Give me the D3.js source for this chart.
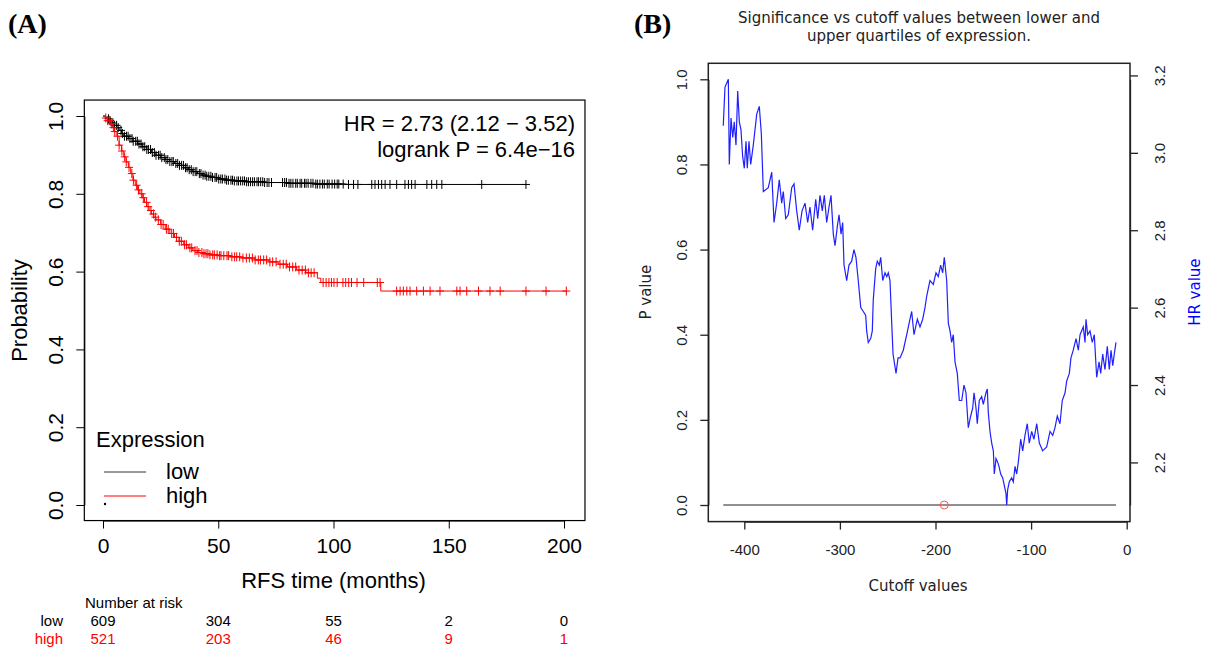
<!DOCTYPE html>
<html>
<head>
<meta charset="utf-8">
<script src="https://cdn.jsdelivr.net/npm/d3@7"></script>
<style>
  body { margin: 0; background: #fff; }
  svg { display: block; }
</style>
</head>
<body>
<svg width="1211" height="652"></svg>
<script>
// ---- panel A: Kaplan-Meier data ----
var lowTimes = [0, 1, 2, 3, 4, 5, 6, 7, 8, 9, 11, 13, 15, 17, 19, 21, 23, 25, 27, 29, 31, 33, 35, 37, 39, 41, 43, 45, 47, 50, 53, 57, 62, 70, 80, 92, 105, 183.5];
var lowSurv = [1.000, 0.997, 0.993, 0.988, 0.982, 0.976, 0.970, 0.963, 0.955, 0.948, 0.942, 0.935, 0.928, 0.921, 0.914, 0.906, 0.899, 0.893, 0.888, 0.883, 0.878, 0.873, 0.867, 0.862, 0.857, 0.852, 0.848, 0.845, 0.842, 0.838, 0.835, 0.833, 0.831, 0.829, 0.827, 0.825, 0.824, 0.824];
var highTimes = [0, 1, 2, 3, 4, 5, 6, 7, 8, 9, 10, 11, 12, 13, 14, 15, 16, 17, 18, 19, 20, 21, 22, 23, 25, 27, 29, 31, 33, 35, 37, 39, 41, 43, 46, 50, 55, 60, 66, 72, 76, 80, 84, 88, 93, 94.5, 120.5, 201];
var highSurv = [1.000, 0.995, 0.988, 0.980, 0.970, 0.960, 0.948, 0.925, 0.910, 0.895, 0.882, 0.868, 0.852, 0.835, 0.822, 0.810, 0.800, 0.790, 0.778, 0.767, 0.757, 0.748, 0.740, 0.733, 0.721, 0.709, 0.698, 0.688, 0.678, 0.669, 0.661, 0.654, 0.649, 0.646, 0.643, 0.641, 0.638, 0.635, 0.630, 0.625, 0.619, 0.612, 0.604, 0.597, 0.583, 0.572, 0.550, 0.550];

var lowCensor = [2.4, 3.1, 4.3, 5.0, 5.9, 6.6, 7.8, 8.4, 9.3, 10.2, 10.9, 11.7, 12.6, 13.1, 14.2, 14.9, 15.6, 16.5, 17.3, 18.1, 19.0, 19.7, 20.6, 21.4, 22.3, 23.0, 24.1, 24.8, 25.5, 26.6, 27.3, 28.1, 29.0, 29.9, 30.5, 31.6, 32.4, 33.2, 34.1, 34.9, 35.8, 36.5, 37.4, 38.3, 39.1, 40.0, 40.7, 41.8, 42.5, 43.4, 44.3, 45.0, 45.9, 46.8, 47.5, 48.6, 49.3, 50.2, 51.1, 51.8, 52.9, 53.6, 54.4, 55.5, 56.2, 57.0, 58.1, 58.8, 59.7, 60.6, 61.4, 62.3, 63.1, 64.0, 64.9, 65.7, 66.8, 67.5, 68.4, 69.3, 70.1, 71.2, 72.0, 73.1, 77.9, 78.8, 79.6, 80.7, 81.5, 82.4, 83.6, 84.3, 85.5, 86.2, 87.4, 88.1, 89.0, 90.2, 91.1, 92.3, 93.0, 94.1, 95.2, 96.0, 97.3, 98.1, 99.4, 100.5, 101.6, 102.3, 104.2, 106.5, 108.7, 110.6, 116.6, 118.0, 119.5, 120.9, 122.4, 124.5, 127.4, 131.0, 132.5, 133.9, 135.4, 140.5, 142.6, 144.8, 147.0, 164.3, 183.5];
var highCensor = [1.2, 2.0, 2.9, 3.6, 4.5, 5.1, 6.3, 7.0, 8.2, 9.4, 10.1, 11.3, 12.5, 13.2, 14.6, 15.4, 16.8, 17.5, 18.9, 19.6, 20.8, 21.9, 22.7, 24.0, 25.2, 26.1, 27.5, 28.3, 29.8, 30.6, 31.9, 33.1, 34.0, 35.4, 36.2, 37.7, 38.5, 39.9, 40.8, 41.6, 42.9, 43.8, 44.7, 45.5, 46.4, 47.6, 48.3, 49.5, 50.6, 51.2, 52.4, 53.8, 54.5, 55.9, 57.1, 58.0, 59.3, 60.7, 62.2, 63.5, 64.8, 66.0, 67.4, 68.3, 69.7, 71.0, 72.4, 73.6, 75.1, 76.8, 78.2, 79.5, 80.9, 82.3, 83.6, 85.0, 86.4, 87.8, 89.1, 90.3, 91.6, 95.5, 96.8, 98.0, 99.1, 100.2, 101.6, 104.1, 105.3, 106.6, 107.8, 110.2, 113.1, 119.0, 120.2, 127.4, 128.9, 130.3, 131.8, 133.2, 136.1, 139.0, 141.9, 146.2, 153.5, 154.9, 157.8, 162.9, 167.9, 172.3, 183.5, 192.2, 201.0];

var riskTimes = [0, 50, 100, 150, 200];
var riskLow = [609, 304, 55, 2, 0];
var riskHigh = [521, 203, 46, 9, 1];

// ---- panel B: HR vs cutoff ----
var hrCut = [-422.0,-420.2,-416.7,-415.7,-413.9,-412.1,-410.5,-408.7,-406.9,-405.2,
  -403.5,-401.7,-400.0,-398.2,-396.9,-395.1,-393.3,-390.6,-387.0,-384.3,
  -382.2,-380.1,-374.9,-371.3,-368.9,-366.1,-363.4,-360.9,-359.2,-356.7,
  -354.0,-350.4,-348.0,-345.2,-342.5,-339.6,-336.5,-333.7,-331.3,-328.5,
  -325.3,-323.2,-320.8,-318.4,-316.3,-313.8,-311.4,-309.3,-306.9,-305.1,
  -302.7,-300.9,-298.8,-297.1,-295.7,-292.9,-290.5,-287.7,-285.3,-283.2,
  -280.8,-278.2,-275.5,-273.0,-272.0,-270.3,-267.8,-266.1,-265.1,-262.6,
  -260.9,-258.8,-257.3,-255.2,-252.8,-251.0,-249.4,-247.6,-245.8,-244.4,
  -241.3,-239.2,-237.1,-233.7,-230.1,-226.7,-224.9,-222.5,-219.0,-216.2,
  -213.4,-211.0,-209.2,-205.8,-202.3,-199.5,-197.1,-194.6,-192.5,-190.8,
  -188.3,-186.6,-184.8,-183.1,-181.4,-179.6,-177.2,-175.1,-172.6,-170.2,
  -168.1,-165.7,-163.2,-161.1,-159.7,-157.6,-156.3,-154.2,-151.7,-150.0,
  -147.2,-145.8,-144.8,-143.0,-141.2,-139.5,-138.5,-136.7,-134.9,-133.6,
  -131.8,-129.7,-128.0,-126.3,-125.5,-124.5,-122.8,-120.3,-118.6,-116.8,
  -115.1,-113.4,-110.9,-108.8,-106.4,-104.0,-101.9,-99.4,-97.0,-94.1,
  -91.4,-87.9,-83.7,-80.2,-77.4,-75.0,-72.6,-69.8,-67.4,-64.5,
  -62.8,-60.0,-58.3,-55.9,-53.0,-50.6,-48.8,-47.1,-45.4,-43.6,
  -42.6,-40.8,-38.4,-36.0,-33.9,-31.4,-28.9,-27.2,-25.1,-22.7,
  -20.3,-18.2,-16.4,-14.6,-13.0,-11.2];
var hrVal = [3.07,3.17,3.19,2.97,3.09,3.04,3.08,3.02,3.16,3.08,
  3.06,2.99,2.96,3.03,2.96,3.03,2.97,3.02,3.10,3.12,
  3.05,2.90,2.91,2.95,2.82,2.87,2.93,2.87,2.90,2.83,
  2.84,2.91,2.92,2.85,2.80,2.85,2.87,2.82,2.86,2.80,
  2.88,2.83,2.89,2.85,2.89,2.82,2.86,2.89,2.79,2.76,
  2.81,2.84,2.79,2.82,2.71,2.67,2.71,2.72,2.75,2.73,
  2.67,2.60,2.59,2.58,2.54,2.51,2.52,2.54,2.62,2.70,
  2.72,2.71,2.73,2.67,2.69,2.68,2.69,2.67,2.56,2.48,
  2.43,2.47,2.47,2.49,2.53,2.57,2.59,2.53,2.57,2.55,
  2.57,2.60,2.63,2.67,2.66,2.69,2.68,2.71,2.69,2.73,
  2.67,2.56,2.54,2.51,2.53,2.46,2.43,2.36,2.36,2.40,
  2.38,2.29,2.32,2.34,2.38,2.34,2.30,2.36,2.37,2.35,
  2.38,2.39,2.33,2.28,2.25,2.23,2.17,2.21,2.20,2.19,
  2.17,2.16,2.14,2.12,2.09,2.13,2.15,2.16,2.15,2.19,
  2.17,2.20,2.26,2.23,2.27,2.30,2.25,2.28,2.26,2.30,
  2.25,2.23,2.24,2.28,2.27,2.29,2.32,2.30,2.36,2.38,
  2.41,2.43,2.47,2.49,2.52,2.49,2.53,2.54,2.55,2.51,
  2.57,2.53,2.54,2.51,2.53,2.42,2.46,2.43,2.48,2.44,
  2.50,2.44,2.49,2.45,2.48,2.51];
var pCut = [-422.0, -11.2];
var pVal = [0, 0];
var bestCut = -190.8, bestP = 0;

var svg = d3.select("svg");
var sansA = "'Liberation Sans', Arial, sans-serif";
var sansB = "'DejaVu Sans', sans-serif";

// panel letters
svg.append("text").attr("x", 8).attr("y", 33).text("(A)")
  .style("font-family", "'Liberation Serif', 'Times New Roman', serif").style("font-weight", "bold").style("font-size", "28px");
svg.append("text").attr("x", 634).attr("y", 33).text("(B)")
  .style("font-family", "'Liberation Serif', 'Times New Roman', serif").style("font-weight", "bold").style("font-size", "28px");

// ================= panel A =================
var xA = d3.scaleLinear().domain([0, 200]).range([103, 564]);
var yA = d3.scaleLinear().domain([0, 1]).range([505, 116]);
var gA = svg.append("g").style("font-family", sansA);

gA.append("rect")
  .attr("x", xA(-8.1)).attr("y", yA(1.041))
  .attr("width", xA(209.1) - xA(-8.1)).attr("height", yA(-0.04) - yA(1.041))
  .attr("fill", "none").attr("stroke", "#000").attr("stroke-width", 1.2);

var axA_y = gA.append("g").attr("transform", "translate(" + xA(-8.1) + ",0)")
  .call(d3.axisLeft(yA).tickValues([0, 0.2, 0.4, 0.6, 0.8, 1.0]).tickFormat(d3.format(".1f")).tickSize(8).tickSizeOuter(0));
axA_y.selectAll("text")
  .attr("transform", "rotate(-90)").attr("x", 0).attr("y", -21).attr("dy", 0)
  .style("text-anchor", "middle").style("font-size", "21px").attr("fill", "#000");

var axA_x = gA.append("g").attr("transform", "translate(0," + yA(-0.04) + ")")
  .call(d3.axisBottom(xA).tickValues(riskTimes).tickSize(8).tickSizeOuter(0).tickPadding(10));
axA_x.selectAll("text").style("font-size", "21px").attr("fill", "#000");
gA.selectAll(".domain, .tick line").attr("stroke", "#000");

gA.append("text").attr("transform", "translate(27," + yA(0.5) + ") rotate(-90)")
  .style("text-anchor", "middle").style("font-size", "22px").text("Probability");
gA.append("text").attr("x", xA(100)).attr("y", 588)
  .style("text-anchor", "middle").style("font-size", "22px").text("RFS time (months)");

// survival curves
var kmLine = d3.line().curve(d3.curveStepAfter).x(function(d) { return xA(d[0]); }).y(function(d) { return yA(d[1]); });
function stepAt(times, surv, t) {
  var i = d3.bisectRight(times, t) - 1;
  return surv[Math.max(0, i)];
}
var groups = [
  { times: lowTimes, surv: lowSurv, censor: lowCensor, color: "#000" },
  { times: highTimes, surv: highSurv, censor: highCensor, color: "#ff0000" }
];
groups.forEach(function(g) {
  gA.append("path")
    .datum(d3.zip(g.times, g.surv))
    .attr("d", kmLine)
    .attr("fill", "none").attr("stroke", g.color).attr("stroke-width", 1);
  gA.append("g").selectAll("path").data(g.censor).enter().append("path")
    .attr("transform", function(t) { return "translate(" + xA(t) + "," + yA(stepAt(g.times, g.surv, t)) + ")"; })
    .attr("d", "M-4,0H4M0,-4.5V4.5")
    .attr("stroke", g.color).attr("stroke-width", 1);
});

// HR text
gA.append("text").attr("x", 575).attr("y", 131).style("text-anchor", "end").style("font-size", "22px")
  .text("HR = 2.73 (2.12 \u2212 3.52)");
gA.append("text").attr("x", 575).attr("y", 157).style("text-anchor", "end").style("font-size", "22px")
  .text("logrank P = 6.4e\u221216");

// legend
gA.append("text").attr("x", 96).attr("y", 447).style("font-size", "22px").text("Expression");
gA.append("line").attr("x1", 104).attr("x2", 146).attr("y1", 472).attr("y2", 472).attr("stroke", "#333").attr("stroke-width", 1);
gA.append("line").attr("x1", 104).attr("x2", 146).attr("y1", 496).attr("y2", 496).attr("stroke", "#ff0000").attr("stroke-width", 1);
gA.append("text").attr("x", 166).attr("y", 479).style("font-size", "22px").text("low");
gA.append("text").attr("x", 166).attr("y", 503).style("font-size", "22px").text("high");
gA.append("circle").attr("cx", 105).attr("cy", 504).attr("r", 1.2).attr("fill", "#000");

// number at risk
gA.append("text").attr("x", 85).attr("y", 608).style("font-size", "15px").text("Number at risk");
gA.append("text").attr("x", 63).attr("y", 626).style("font-size", "15px").style("text-anchor", "end").text("low");
gA.append("text").attr("x", 63).attr("y", 644).style("font-size", "15px").style("text-anchor", "end").attr("fill", "#ff0000").text("high");
gA.append("g").selectAll("text").data(riskLow).enter().append("text")
  .attr("x", function(d, i) { return xA(riskTimes[i]); }).attr("y", 626)
  .style("text-anchor", "middle").style("font-size", "15px").text(function(d) { return d; });
gA.append("g").selectAll("text").data(riskHigh).enter().append("text")
  .attr("x", function(d, i) { return xA(riskTimes[i]); }).attr("y", 644)
  .style("text-anchor", "middle").style("font-size", "15px").attr("fill", "#ff0000").text(function(d) { return d; });

// ================= panel B =================
var xB = d3.scaleLinear().domain([-400, 0]).range([744.3, 1126.7]);
var yB = d3.scaleLinear().domain([0, 1]).range([505, 79.3]);
var hrScale = d3.scaleLinear().domain(d3.extent(hrVal)).range([yB(0), yB(1)]);
var gB = svg.append("g").style("font-family", sansB).style("fill", "#222");

gB.append("text").attr("x", 919).attr("y", 23).style("text-anchor", "middle").style("font-size", "15px")
  .text("Significance vs cutoff values between lower and");
gB.append("text").attr("x", 919).attr("y", 41).style("text-anchor", "middle").style("font-size", "15px")
  .text("upper quartiles of expression.");

var boxL = xB.invert(708.3), boxR = xB.invert(1130);
gB.append("rect")
  .attr("x", xB(boxL)).attr("y", yB(1.0376))
  .attr("width", xB(boxR) - xB(boxL)).attr("height", yB(-0.039) - yB(1.0376))
  .attr("fill", "none").attr("stroke", "#222").attr("stroke-width", 1.5);

var axB_y = gB.append("g").attr("transform", "translate(" + xB(boxL) + ",0)")
  .call(d3.axisLeft(yB).tickValues([0, 0.2, 0.4, 0.6, 0.8, 1.0]).tickFormat(d3.format(".1f")).tickSize(8).tickSizeOuter(0));
axB_y.selectAll("text")
  .attr("transform", "rotate(-90)").attr("x", 0).attr("y", -21).attr("dy", 0)
  .style("text-anchor", "middle").style("font-size", "15px").attr("fill", "#222");

var axB_r = gB.append("g").attr("transform", "translate(" + xB(boxR) + ",0)")
  .call(d3.axisRight(hrScale).tickValues([2.2, 2.4, 2.6, 2.8, 3.0, 3.2]).tickFormat(d3.format(".1f")).tickSize(8).tickSizeOuter(0));
axB_r.selectAll("text")
  .attr("transform", "rotate(-90)").attr("x", 0).attr("y", 35).attr("dy", 0)
  .style("text-anchor", "middle").style("font-size", "15px").attr("fill", "#222");

// plain hyphen for negative ticks, as in R
var axB_x = gB.append("g").attr("transform", "translate(0," + yB(-0.039) + ")")
  .call(d3.axisBottom(xB).tickValues([-400, -300, -200, -100, 0]).tickFormat(function(d) { return String(d); })
    .tickSize(8).tickSizeOuter(0).tickPadding(15));
axB_x.selectAll("text").style("font-size", "15px").attr("fill", "#222");
gB.selectAll(".domain, .tick line").attr("stroke", "#222").attr("stroke-width", 1.3);

gB.append("text").attr("transform", "translate(651," + yB(0.5) + ") rotate(-90)")
  .style("text-anchor", "middle").style("font-size", "15px").text("P value");
gB.append("text").attr("transform", "translate(1200," + yB(0.5) + ") rotate(-90)")
  .style("text-anchor", "middle").style("font-size", "15px").attr("fill", "#0000ff").text("HR value");
gB.append("text").attr("x", 918).attr("y", 591)
  .style("text-anchor", "middle").style("font-size", "15px").text("Cutoff values");

// P values line
gB.append("path").datum(d3.zip(pCut, pVal))
  .attr("d", d3.line().x(function(d) { return xB(d[0]); }).y(function(d) { return yB(d[1]); }))
  .attr("fill", "none").attr("stroke", "#222").attr("stroke-width", 1.2);

// HR line
gB.append("path").datum(d3.zip(hrCut, hrVal))
  .attr("d", d3.line().x(function(d) { return xB(d[0]); }).y(function(d) { return hrScale(d[1]); }))
  .attr("fill", "none").attr("stroke", "#2020ff").attr("stroke-width", 1.2);

// best cutoff
gB.append("circle").attr("cx", xB(bestCut)).attr("cy", yB(bestP)).attr("r", 4)
  .attr("fill", "none").attr("stroke", "#ff5555").attr("stroke-width", 1);
</script>
</body>
</html>
